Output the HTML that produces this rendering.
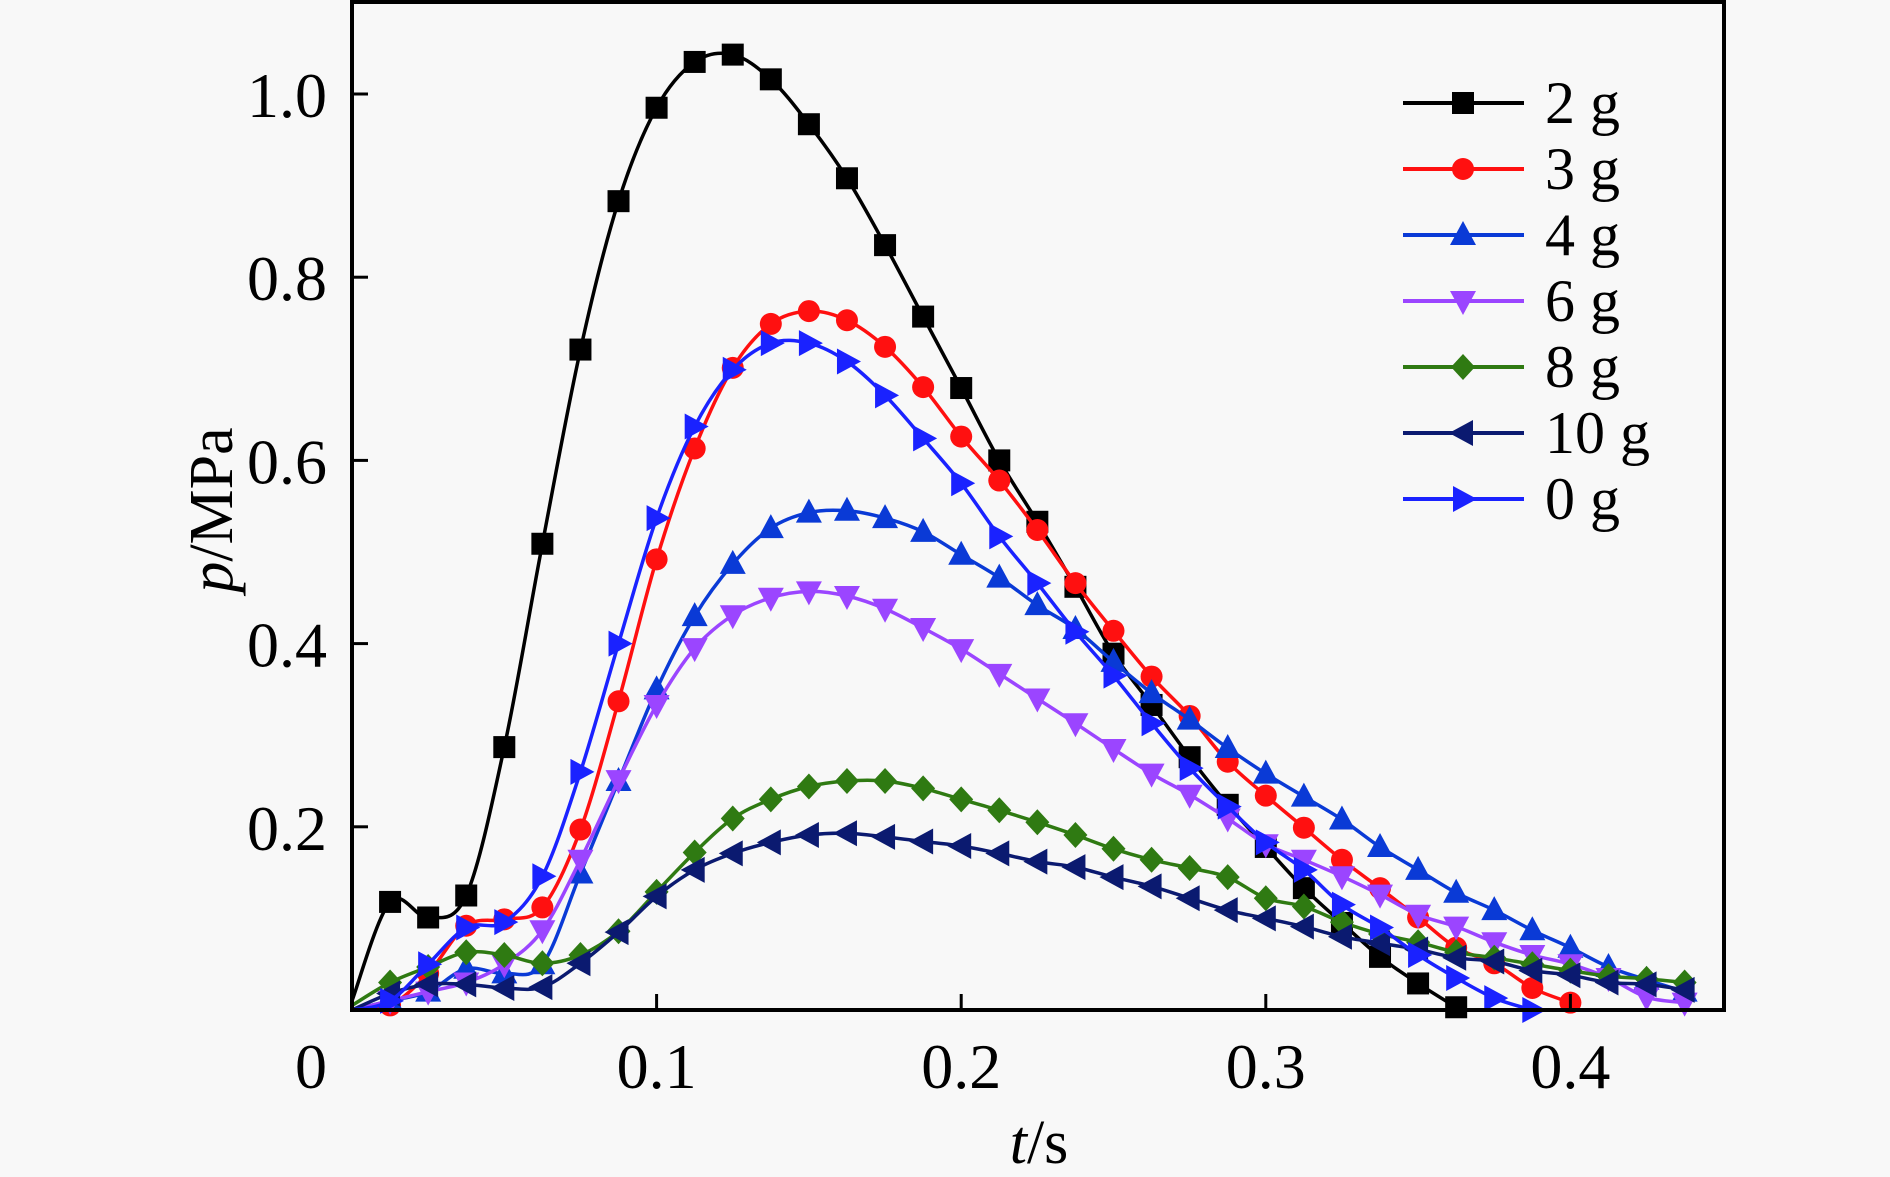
<!DOCTYPE html>
<html><head><meta charset="utf-8"><style>
html,body{margin:0;padding:0;background:#f8f8f8;}
svg{display:block;font-family:"Liberation Serif","Times New Roman",serif;}
</style></head><body>
<svg id="chart" width="1890" height="1177" viewBox="0 0 1890 1177">
<rect x="0" y="0" width="1890" height="1177" fill="#f8f8f8"/>
<g id="series"></g>
<rect x="352" y="2" width="1372" height="1008" fill="none" stroke="#000" stroke-width="4"/>
<g id="axes"></g>
<g id="legend"></g>
<text x="1039" y="1163" font-size="62" text-anchor="middle"><tspan font-style="italic">t</tspan>/s</text>
<text transform="translate(232,510) rotate(-90)" font-size="62" text-anchor="middle"><tspan font-style="italic">p</tspan>/MPa</text>
</svg>
<script>
const tStep = 0.0125;
const xTicks = [0.1, 0.2, 0.3, 0.4];
const xTickLabels = ["0.1", "0.2", "0.3", "0.4"];
const yTicks = [0.2, 0.4, 0.6, 0.8, 1.0];
const yTickLabels = ["0.2", "0.4", "0.6", "0.8", "1.0"];
const seriesNames = ["2 g", "3 g", "4 g", "6 g", "8 g", "10 g", "0 g"];
const p2g = [0.01,0.118,0.101,0.125,0.287,0.509,0.721,0.883,0.985,1.035,1.043,1.016,0.967,0.908,0.835,0.757,0.679,0.600,0.533,0.462,0.389,0.333,0.276,0.224,0.178,0.133,0.095,0.058,0.029,0.003];
const p3g = [0,0.005,0.04,0.092,0.099,0.112,0.197,0.337,0.492,0.613,0.701,0.749,0.763,0.753,0.724,0.680,0.626,0.578,0.524,0.466,0.414,0.364,0.321,0.271,0.234,0.199,0.164,0.133,0.101,0.068,0.051,0.024,0.008];
const p4g = [0,0.01,0.02,0.045,0.04,0.05,0.149,0.25,0.35,0.43,0.487,0.526,0.543,0.545,0.537,0.522,0.497,0.472,0.442,0.416,0.38,0.346,0.317,0.286,0.258,0.233,0.208,0.178,0.153,0.128,0.109,0.087,0.068,0.047,0.033,0.02];
const p6g = [0,0.01,0.02,0.03,0.05,0.087,0.164,0.251,0.333,0.395,0.431,0.45,0.457,0.452,0.438,0.417,0.394,0.367,0.34,0.313,0.285,0.258,0.235,0.209,0.181,0.164,0.146,0.126,0.104,0.091,0.074,0.06,0.05,0.035,0.014,0.008];
const p8g = [0.005,0.03,0.047,0.063,0.06,0.051,0.06,0.086,0.129,0.172,0.209,0.23,0.244,0.25,0.25,0.242,0.23,0.218,0.205,0.191,0.176,0.164,0.155,0.145,0.122,0.113,0.096,0.083,0.074,0.063,0.057,0.05,0.043,0.037,0.034,0.03];
const p10g = [0,0.018,0.028,0.028,0.024,0.025,0.051,0.085,0.124,0.153,0.171,0.183,0.191,0.193,0.189,0.184,0.179,0.171,0.162,0.156,0.145,0.135,0.122,0.109,0.1,0.091,0.08,0.073,0.066,0.057,0.053,0.043,0.038,0.03,0.028,0.022];
const p0g = [0,0.01,0.05,0.09,0.096,0.146,0.26,0.40,0.537,0.637,0.699,0.728,0.728,0.708,0.671,0.624,0.575,0.517,0.466,0.413,0.365,0.313,0.264,0.222,0.183,0.153,0.115,0.09,0.06,0.035,0.013,0.0];

const NS = "http://www.w3.org/2000/svg";
const X0 = 352, XS = 3046, Y0 = 1010, YS = 916;
function xs(t){ return X0 + t*XS; }
function ys(p){ return Y0 - p*YS; }

const styles = [
  {data:p2g, color:"#000000", marker:"square"},
  {data:p3g, color:"#ff1010", marker:"circle"},
  {data:p4g, color:"#0a3ad6", marker:"up"},
  {data:p6g, color:"#9b45ff", marker:"down"},
  {data:p8g, color:"#2f7a12", marker:"diamond"},
  {data:p10g, color:"#0b1a70", marker:"left"},
  {data:p0g, color:"#1a22ff", marker:"right"}
];

function smoothPath(pts){
  let d = "M" + pts[0][0].toFixed(1) + "," + pts[0][1].toFixed(1);
  for(let i=0;i<pts.length-1;i++){
    const p0 = pts[Math.max(0,i-1)], p1 = pts[i], p2 = pts[i+1], p3 = pts[Math.min(pts.length-1,i+2)];
    const c1x = p1[0] + (p2[0]-p0[0])/6, c1y = p1[1] + (p2[1]-p0[1])/6;
    const c2x = p2[0] - (p3[0]-p1[0])/6, c2y = p2[1] - (p3[1]-p1[1])/6;
    d += " C" + c1x.toFixed(1) + "," + c1y.toFixed(1) + " " + c2x.toFixed(1) + "," + c2y.toFixed(1) + " " + p2[0].toFixed(1) + "," + p2[1].toFixed(1);
  }
  return d;
}

function markerEl(type, cx, cy, color){
  let el;
  const s = 12;
  if(type === "circle"){
    el = document.createElementNS(NS, "circle");
    el.setAttribute("cx", cx); el.setAttribute("cy", cy); el.setAttribute("r", 11);
  } else if(type === "square"){
    el = document.createElementNS(NS, "rect");
    el.setAttribute("x", cx-11); el.setAttribute("y", cy-11);
    el.setAttribute("width", 22); el.setAttribute("height", 22);
  } else {
    el = document.createElementNS(NS, "polygon");
    let pts;
    if(type === "up") pts = [[cx,cy-s-2],[cx+s+1,cy+s-2],[cx-s-1,cy+s-2]];
    else if(type === "down") pts = [[cx,cy+s+2],[cx+s+1,cy-s+2],[cx-s-1,cy-s+2]];
    else if(type === "left") pts = [[cx-s-2,cy],[cx+s-2,cy-s-1],[cx+s-2,cy+s+1]];
    else if(type === "right") pts = [[cx+s+2,cy],[cx-s+2,cy-s-1],[cx-s+2,cy+s+1]];
    else pts = [[cx,cy-13],[cx+12,cy],[cx,cy+13],[cx-12,cy]];
    el.setAttribute("points", pts.map(p=>p.join(",")).join(" "));
  }
  el.setAttribute("fill", color);
  return el;
}

const sg = document.getElementById("series");
styles.forEach((st, si) => {
  const g = document.createElementNS(NS, "g");
  
  
  const pts = st.data.map((p,i)=>[xs(i*tStep), ys(p)]);
  const line = document.createElementNS(NS, "path");
  line.setAttribute("d", smoothPath(pts));
  line.setAttribute("fill", "none");
  line.setAttribute("stroke", st.color);
  line.setAttribute("stroke-width", 3.5);
  line.setAttribute("stroke-linejoin", "round");
  
  
  g.appendChild(line);
  st.data.forEach((p,i)=>{
    if(i===0) return;
    const m = markerEl(st.marker, xs(i*tStep), ys(p), st.color);
    
    
    g.appendChild(m);
  });
  sg.appendChild(g);
});

const ax = document.getElementById("axes");
xTicks.forEach((t,i)=>{
  const l = document.createElementNS(NS, "line");
  l.setAttribute("x1", xs(t)); l.setAttribute("x2", xs(t));
  l.setAttribute("y1", Y0); l.setAttribute("y2", Y0-16);
  l.setAttribute("stroke", "#000"); l.setAttribute("stroke-width", 3);
  
  
  ax.appendChild(l);
  const tx = document.createElementNS(NS, "text");
  tx.setAttribute("x", xs(t)); tx.setAttribute("y", 1088);
  tx.setAttribute("font-size", 64); tx.setAttribute("text-anchor", "middle");
  tx.textContent = xTickLabels[i];
  
  
  ax.appendChild(tx);
});
const zero = document.createElementNS(NS, "text");
zero.setAttribute("x", 311); zero.setAttribute("y", 1088);
zero.setAttribute("font-size", 64); zero.setAttribute("text-anchor", "middle");
zero.textContent = "0";


ax.appendChild(zero);
yTicks.forEach((p,i)=>{
  const l = document.createElementNS(NS, "line");
  l.setAttribute("x1", X0); l.setAttribute("x2", X0+16);
  l.setAttribute("y1", ys(p)); l.setAttribute("y2", ys(p));
  l.setAttribute("stroke", "#000"); l.setAttribute("stroke-width", 3);
  
  
  ax.appendChild(l);
  const tx = document.createElementNS(NS, "text");
  tx.setAttribute("x", 327); tx.setAttribute("y", ys(p)+23);
  tx.setAttribute("font-size", 64); tx.setAttribute("text-anchor", "end");
  tx.textContent = yTickLabels[i];
  
  
  ax.appendChild(tx);
});

const lg = document.getElementById("legend");
styles.forEach((st, i)=>{
  const y = 103 + i*66;
  const g = document.createElementNS(NS, "g");
  
  
  const l = document.createElementNS(NS, "line");
  l.setAttribute("x1", 1403); l.setAttribute("x2", 1524);
  l.setAttribute("y1", y); l.setAttribute("y2", y);
  l.setAttribute("stroke", st.color); l.setAttribute("stroke-width", 4);
  g.appendChild(l);
  g.appendChild(markerEl(st.marker, 1463, y, st.color));
  const tx = document.createElementNS(NS, "text");
  tx.setAttribute("x", 1545); tx.setAttribute("y", y+20);
  tx.setAttribute("font-size", 60);
  tx.textContent = seriesNames[i];
  g.appendChild(tx);
  lg.appendChild(g);
});
</script>
</body></html>
